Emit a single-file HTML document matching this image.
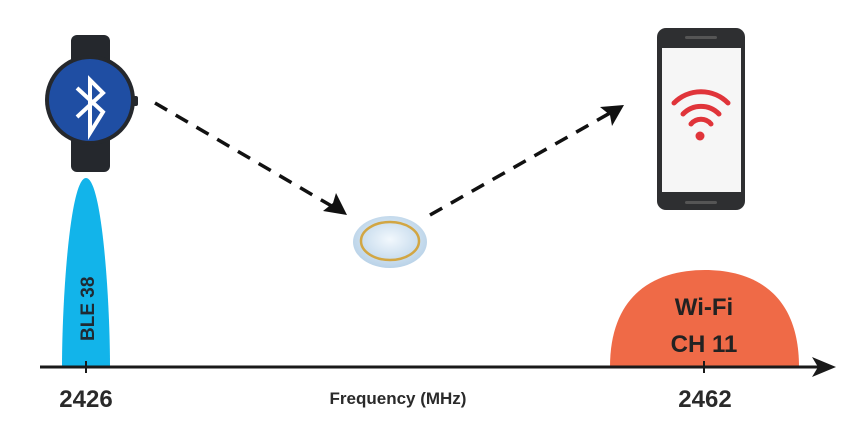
<!DOCTYPE html>
<html><head><style>
html,body{margin:0;padding:0;background:#fff;width:863px;height:438px;overflow:hidden}
</style></head><body>
<svg width="863" height="438" viewBox="0 0 863 438" xmlns="http://www.w3.org/2000/svg">
<defs>
<radialGradient id="dg" cx="50%" cy="45%" r="60%"><stop offset="0" stop-color="#f2f8fd"/><stop offset="1" stop-color="#b4cfe6"/></radialGradient>
</defs>
<!-- watch -->
<rect x="71" y="35" width="39" height="40" rx="6" fill="#25282d"/>
<rect x="71" y="130" width="39" height="42" rx="6" fill="#25282d"/>
<rect x="132" y="96" width="6" height="10" rx="2" fill="#25282d"/>
<circle cx="90" cy="100" r="45" fill="#25282d"/>
<circle cx="90" cy="100" r="41" fill="#1f4ea3"/>
<polyline points="77,88 103,112 90,133 90,80 103,93 77,117" fill="none" stroke="#fff" stroke-width="4" stroke-linejoin="miter"/>
<!-- BLE peak -->
<path d="M62,367 C62,300 70,178 86,178 C102,178 110,300 110,367 Z" fill="#12b4ea"/>
<text transform="translate(94,341) rotate(-90)" font-family="Liberation Sans, sans-serif" font-size="19" font-weight="bold" fill="#1f2a33">BLE 38</text>
<!-- WiFi hump -->
<path d="M610,367 C610,290 660,270 705,270 C750,270 799,290 799,367 Z" fill="#ef6a47"/>
<text x="704" y="315" text-anchor="middle" font-family="Liberation Sans, sans-serif" font-size="24" font-weight="bold" fill="#222">Wi-Fi</text>
<text x="704" y="352" text-anchor="middle" font-family="Liberation Sans, sans-serif" font-size="24" font-weight="bold" fill="#222">CH 11</text>
<!-- axis -->
<line x1="40" y1="367" x2="822" y2="367" stroke="#1a1a1a" stroke-width="3"/>
<polygon points="836,367 812,357 818,367 812,377" fill="#1a1a1a"/>
<line x1="86" y1="361" x2="86" y2="373" stroke="#1a1a1a" stroke-width="2"/>
<line x1="704" y1="361" x2="704" y2="373" stroke="#1a1a1a" stroke-width="2"/>
<text x="86" y="407" text-anchor="middle" font-family="Liberation Sans, sans-serif" font-size="24" font-weight="bold" fill="#2a2a2a">2426</text>
<text x="705" y="407" text-anchor="middle" font-family="Liberation Sans, sans-serif" font-size="24" font-weight="bold" fill="#2a2a2a">2462</text>
<text x="398" y="404" text-anchor="middle" font-family="Liberation Sans, sans-serif" font-size="17" font-weight="bold" fill="#2a2a2a">Frequency (MHz)</text>
<!-- phone -->
<rect x="657" y="28" width="88" height="182" rx="9" fill="#2e2f31"/>
<rect x="662" y="48" width="79" height="144" fill="#f6f6f6"/>
<rect x="685" y="36" width="32" height="3" rx="1.5" fill="#555"/>
<rect x="685" y="201" width="32" height="3" rx="1.5" fill="#555"/>
<g fill="none" stroke="#e0343a" stroke-width="5" stroke-linecap="round">
<path d="M674,103 A38,38 0 0 1 728,103"/>
<path d="M683,114 A25,25 0 0 1 719,114"/>
<path d="M691,124 A13,13 0 0 1 711,124"/>
</g>
<circle cx="700" cy="136" r="4.5" fill="#e0343a"/>
<!-- disc -->
<ellipse cx="390" cy="242" rx="37" ry="26" fill="url(#dg)"/>
<ellipse cx="390" cy="241" rx="29" ry="19" fill="none" stroke="#d2a643" stroke-width="2.5"/>
<!-- arrows -->
<line x1="155" y1="103" x2="335" y2="208" stroke="#111" stroke-width="3.5" stroke-dasharray="14,10"/>
<polygon points="347,215 323,211 333,203 336,193" fill="#111"/>
<line x1="430" y1="215" x2="610" y2="113" stroke="#111" stroke-width="3.5" stroke-dasharray="14,10"/>
<polygon points="624,105 600,107 610,115 612,126" fill="#111"/>
</svg>
</body></html>
